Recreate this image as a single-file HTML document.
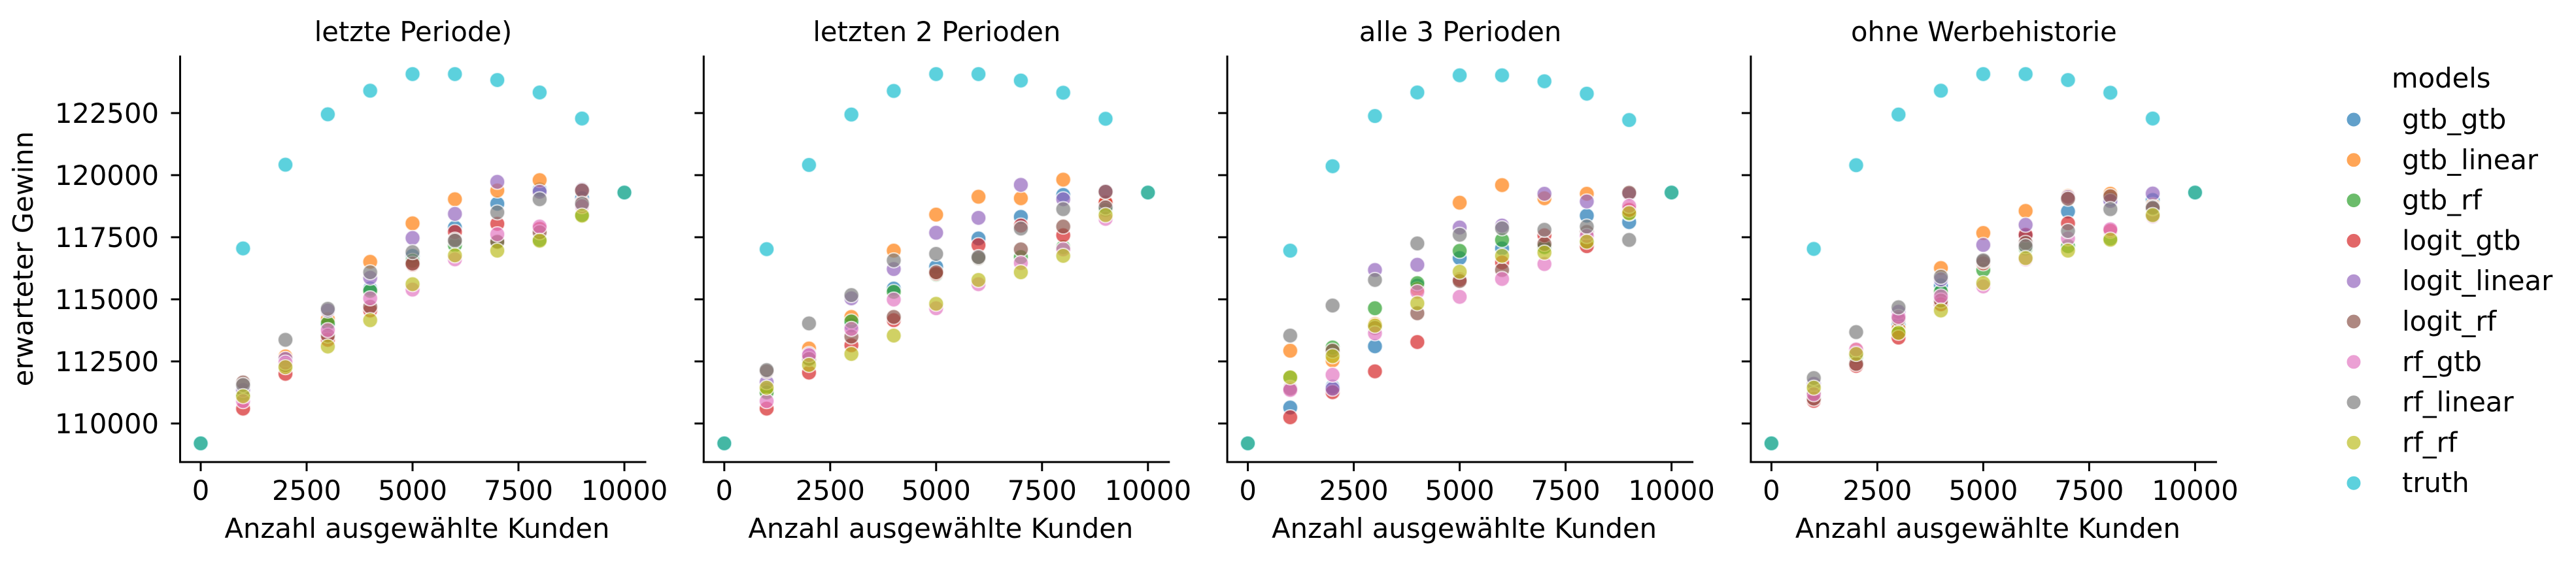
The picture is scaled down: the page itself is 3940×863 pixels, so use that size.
<!DOCTYPE html>
<html><head><meta charset="utf-8">
<style>
html,body{margin:0;padding:0;background:#fff;}
svg{display:block;font-family:"DejaVu Sans","Liberation Sans",sans-serif;}
</style></head>
<body>
<svg id="chart" width="3940" height="863" viewBox="0 0 3940 863" xmlns="http://www.w3.org/2000/svg"></svg>
<script>
const xValues = [0,1000,2000,3000,4000,5000,6000,7000,8000,9000,10000];
const models = ["gtb_gtb","gtb_linear","gtb_rf","logit_gtb","logit_linear","logit_rf","rf_gtb","rf_linear","rf_rf","truth"];
const colors = ["#1f77b4","#ff7f0e","#2ca02c","#d62728","#9467bd","#8c564b","#e377c2","#7f7f7f","#bcbd22","#17becf"];
const panelTitles = ["letzte Periode)","letzten 2 Perioden","alle 3 Perioden","ohne Werbehistorie"];
const xTicks = [0,2500,5000,7500,10000];
const yTicks = [110000,112500,115000,117500,120000,122500];

const p1_gtb_gtb      = [109200,111250,112500,113950,115430,116750,117890,118850,119420,119070,119300];
const p1_gtb_linear   = [109200,111200,112700,114200,116510,118060,119030,119380,119800,118800,119300];
const p1_gtb_rf       = [109200,111150,112400,114030,115340,116550,117180,117300,117400,118400,119300];
const p1_logit_gtb    = [109200,110600,112000,113370,114550,116400,117710,118040,117840,118900,119300];
const p1_logit_linear = [109200,111350,112600,114550,115870,117470,118440,119730,119330,119420,119300];
const p1_logit_rf     = [109200,111650,112350,113540,114700,116440,117400,117320,117700,119380,119300];
const p1_rf_gtb       = [109200,110900,112450,113760,115040,115390,116610,117620,117930,118750,119300];
const p1_rf_linear    = [109200,111550,113370,114620,116090,116900,117360,118500,119030,118850,119300];
const p1_rf_rf        = [109200,111100,112270,113100,114160,115610,116770,116960,117360,118370,119300];
const p1_truth        = [109200,117050,120420,122450,123400,124070,124070,123830,123330,122280,119300];

const p2_gtb_gtb      = [109200,111300,112700,113950,115430,116310,117450,118320,119200,118800,119300];
const p2_gtb_linear   = [109200,111350,113020,114290,116960,118410,119130,119070,119820,118850,119300];
const p2_gtb_rf       = [109200,111250,112650,114110,115300,116000,116650,116700,117100,118600,119300];
const p2_logit_gtb    = [109200,110600,112050,113150,114160,116040,117180,117970,117580,118900,119300];
const p2_logit_linear = [109200,111660,112800,115040,116220,117680,118280,119610,119030,119350,119300];
const p2_logit_rf     = [109200,112100,112600,113500,114290,116090,116660,117010,117930,119330,119300];
const p2_rf_gtb       = [109200,110900,112750,113810,114990,114640,115610,116460,117010,118240,119300];
const p2_rf_linear    = [109200,112150,114030,115170,116570,116830,116700,117850,118630,118700,119300];
const p2_rf_rf        = [109200,111440,112360,112800,113540,114820,115780,116090,116750,118390,119300];
const p2_truth        = [109200,117020,120410,122440,123390,124070,124070,123810,123320,122270,119300];

const p3_gtb_gtb      = [109200,110640,111480,113110,115550,116660,117050,117150,118370,118110,119300];
const p3_gtb_linear   = [109200,112930,112540,114000,115400,118890,119600,119070,119250,118650,119300];
const p3_gtb_rf       = [109200,111850,113060,114640,115650,116950,117390,117100,117300,118450,119300];
const p3_logit_gtb    = [109200,110250,111260,112100,113280,115800,116480,117580,117140,118600,119300];
const p3_logit_linear = [109200,111440,111400,116180,116390,117890,117970,119250,118940,119250,119300];
const p3_logit_rf     = [109200,111400,112930,113850,114440,115740,116180,117230,117710,119290,119300];
const p3_rf_gtb       = [109200,111350,111960,113630,115300,115100,115820,116420,117550,118760,119300];
const p3_rf_linear    = [109200,113540,114750,115780,117250,117600,117860,117800,117930,117390,119300];
const p3_rf_rf        = [109200,111860,112710,113940,114840,116110,116750,116880,117320,118470,119300];
const p3_truth        = [109200,116960,120360,122380,123330,124020,124020,123780,123280,122220,119300];

const p4_gtb_gtb      = [109200,111300,112750,113980,115560,116500,117550,118540,119050,119000,119300];
const p4_gtb_linear   = [109200,111250,112950,113800,116260,117670,118560,119160,119250,118800,119300];
const p4_gtb_rf       = [109200,111250,112700,113650,115300,116180,117050,117140,117450,118370,119300];
const p4_logit_gtb    = [109200,110910,112320,113460,114800,116450,117600,118060,117760,118650,119300];
const p4_logit_linear = [109200,111600,112850,114500,115800,117190,118000,119120,118960,119260,119300];
const p4_logit_rf     = [109200,111000,112400,114200,114950,116530,117270,119050,119150,118720,119300];
const p4_rf_gtb       = [109200,111180,112980,114290,115120,115520,116610,117450,117820,118340,119300];
const p4_rf_linear    = [109200,111830,113680,114680,115910,116570,117140,117750,118630,118680,119300];
const p4_rf_rf        = [109200,111440,112800,113650,114550,115650,116660,116960,117400,118390,119300];
const p4_truth        = [109200,117030,120400,122440,123400,124070,124070,123830,123320,122280,119300];

const panelData = [
 [p1_gtb_gtb,p1_gtb_linear,p1_gtb_rf,p1_logit_gtb,p1_logit_linear,p1_logit_rf,p1_rf_gtb,p1_rf_linear,p1_rf_rf,p1_truth],
 [p2_gtb_gtb,p2_gtb_linear,p2_gtb_rf,p2_logit_gtb,p2_logit_linear,p2_logit_rf,p2_rf_gtb,p2_rf_linear,p2_rf_rf,p2_truth],
 [p3_gtb_gtb,p3_gtb_linear,p3_gtb_rf,p3_logit_gtb,p3_logit_linear,p3_logit_rf,p3_rf_gtb,p3_rf_linear,p3_rf_rf,p3_truth],
 [p4_gtb_gtb,p4_gtb_linear,p4_gtb_rf,p4_logit_gtb,p4_logit_linear,p4_logit_rf,p4_rf_gtb,p4_rf_linear,p4_rf_rf,p4_truth]
];

const NS = "http://www.w3.org/2000/svg";
const svg = document.getElementById("chart");
const FS = 41.7;
function mk(tag, attrs, parent){
  const e = document.createElementNS(NS, tag);
  for (const k in attrs) e.setAttribute(k, attrs[k]);
  (parent||svg).appendChild(e);
  return e;
}
const axisLefts = [275.5, 1076.3, 1877.1, 2677.9];
const axisWidth = 713;
const yTop = 85, yBottom = 707;
function xScale(p, v){ return axisLefts[p] + 31.5 + v * 0.0648; }
function yScale(v){ return 648 - (v - 110000) * 0.038; }

for (let p = 0; p < 4; p++) {
  const L = axisLefts[p];
  const g = mk("g", {});
  
  
  const t = mk("text", {x: L + axisWidth/2, y: 63, "text-anchor": "middle", "font-size": FS, fill: "#000"}, g);
  t.textContent = panelTitles[p];
  
  
  const ya = mk("line", {x1: L, y1: yTop, x2: L, y2: yBottom + 1.5, stroke: "#000", "stroke-width": 3}, g);
  
  
  const xa = mk("line", {x1: L - 1.5, y1: yBottom, x2: L + axisWidth, y2: yBottom, stroke: "#000", "stroke-width": 3}, g);
  
  
  for (const tv of xTicks) {
    const x = xScale(p, tv);
    const tk = mk("line", {x1: x, y1: yBottom, x2: x, y2: yBottom + 14, stroke: "#000", "stroke-width": 3}, g);
    
    
    const tl = mk("text", {x: x, y: 765, "text-anchor": "middle", "font-size": FS, fill: "#000"}, g);
    tl.textContent = tv;
    
    
  }
  for (const tv of yTicks) {
    const y = yScale(tv);
    const tk = mk("line", {x1: L - 14, y1: y, x2: L, y2: y, stroke: "#000", "stroke-width": 3}, g);
    
    
    if (p === 0) {
      const tl = mk("text", {x: 243, y: y + 15, "text-anchor": "end", "font-size": FS, fill: "#000"}, g);
      tl.textContent = tv;
      
      
    }
  }
  const xl = mk("text", {x: L + axisWidth/2 + 6, y: 823, "text-anchor": "middle", "font-size": FS, fill: "#000"}, g);
  xl.textContent = "Anzahl ausgewählte Kunden";
  
  
  for (let m = 0; m < models.length; m++) {
    const vals = panelData[p][m];
    for (let i = 0; i < xValues.length; i++) {
      const c = mk("circle", {cx: xScale(p, xValues[i]), cy: yScale(vals[i]), r: 11.5, fill: colors[m], "fill-opacity": 0.7, stroke: "#fff", "stroke-width": 2, "stroke-opacity": 0.7}, g);
      
      
    }
  }
}
const yl = mk("text", {x: 0, y: 0, transform: "translate(50,396) rotate(-90)", "text-anchor": "middle", "font-size": FS, fill: "#000"});
yl.textContent = "erwarteter Gewinn";



const lg = mk("g", {});


const lt = mk("text", {x: 3658, y: 134, "font-size": FS, fill: "#000"}, lg);
lt.textContent = "models";


for (let m = 0; m < models.length; m++) {
  const y = 183 + m * 61.8;
  const c = mk("circle", {cx: 3600, cy: y, r: 11.5, fill: colors[m], "fill-opacity": 0.7, stroke: "#fff", "stroke-width": 2}, lg);
  
  
  const tx = mk("text", {x: 3674, y: y + 14, "font-size": FS, fill: "#000"}, lg);
  tx.textContent = models[m];
  
  
}
</script>
</body></html>
